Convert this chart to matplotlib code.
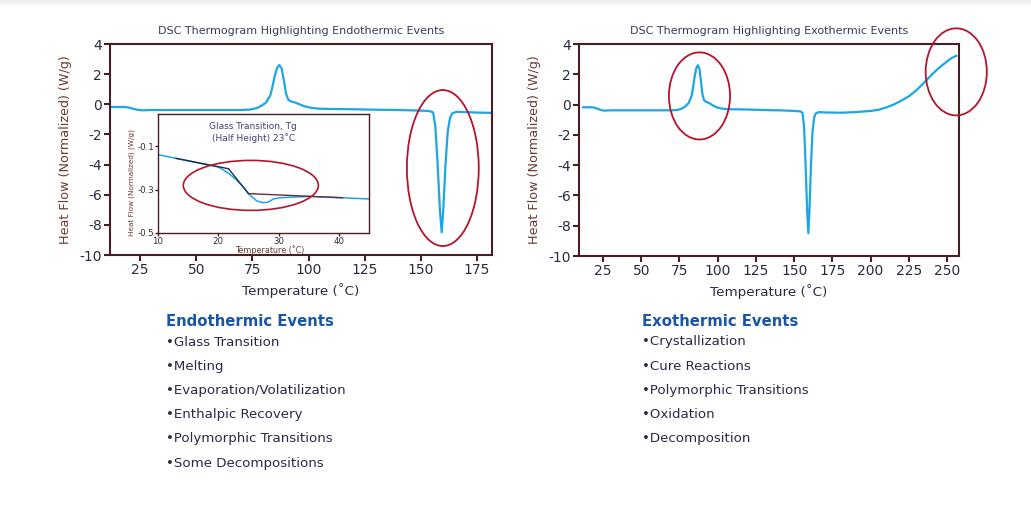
import matplotlib
matplotlib.use("Agg")
import matplotlib.pyplot as plt
from matplotlib.patches import Ellipse, Rectangle

plt.rcParams['font.family'] = ['DejaVu Sans']
plt.rcParams['axes.unicode_minus'] = False

# ---------------- data ----------------
temp_main = [12, 15, 18, 20, 22, 24, 26, 30, 40, 50, 60, 70, 74, 77, 79, 81, 83, 84, 85, 86, 87,
             88, 89, 90, 91, 92, 94, 96, 98, 100, 103, 106, 110, 120, 130, 140, 150, 154,
             155.5, 156.5, 157.5, 158.5, 159.3, 160, 161, 162, 163, 164, 166, 170]
hf_main = [-0.18, -0.18, -0.18, -0.22, -0.30, -0.37, -0.40, -0.38, -0.38, -0.38, -0.38, -0.38, -0.35,
           -0.25, -0.10, 0.10, 0.60, 1.20, 1.90, 2.40, 2.60, 2.40, 1.60, 0.70, 0.30, 0.20, 0.12,
           0.00, -0.12, -0.20, -0.27, -0.30, -0.31, -0.33, -0.36, -0.38, -0.42, -0.45,
           -0.55, -1.50, -4.00, -7.00, -8.50, -7.00, -4.00, -1.80, -0.90, -0.60, -0.50, -0.52]

temp_endo_tail = [175, 182]
hf_endo_tail = [-0.55, -0.57]

temp_exo_tail = [180, 190, 200, 205, 210, 215, 220, 225, 230, 235, 240, 245, 250, 253, 256]
hf_exo_tail = [-0.54, -0.50, -0.42, -0.35, -0.20, 0.00, 0.25, 0.55, 0.95, 1.45, 1.98, 2.45,
               2.85, 3.08, 3.22]

# inset (glass transition)
temp_tg = [10, 20, 21.4, 22.8, 24.2, 25.3, 26.4, 27.5, 28.3, 29.2, 30.3, 32.5, 35.3, 40.3, 45.3]
hf_tg = [-0.138, -0.195, -0.218, -0.249, -0.288, -0.326, -0.352, -0.360, -0.357, -0.342,
         -0.337, -0.334, -0.331, -0.337, -0.343]
tangent_temp = [13, 21.7, 25.0, 40.6]
tangent_hf = [-0.155, -0.203, -0.318, -0.337]

endo_xticks = [25, 50, 75, 100, 125, 150, 175]
exo_xticks = [25, 50, 75, 100, 125, 150, 175, 200, 225, 250]
yticks = [4, 2, 0, -2, -4, -6, -8, -10]
inset_xticks = [10, 20, 30, 40]
inset_yticks = [-0.1, -0.3, -0.5]

endo_title = "DSC Thermogram Highlighting Endothermic Events"
exo_title = "DSC Thermogram Highlighting Exothermic Events"
endo_heading = "Endothermic Events"
endo_items = ["Glass Transition", "Melting", "Evaporation/Volatilization", "Enthalpic Recovery",
              "Polymorphic Transitions", "Some Decompositions"]
exo_heading = "Exothermic Events"
exo_items = ["Crystallization", "Cure Reactions", "Polymorphic Transitions", "Oxidation",
             "Decomposition"]

# ---------------- style ----------------
W, H = 1031, 517
CURVE = "#1ba6e6"
FRAME = "#4a1c24"
TICKTXT = "#2b2b40"
YLAB = "#6a3a30"
TITLE = "#3a3a5c"
RED = "#b3142c"
HEAD = "#1a56a8"
ITEM = "#2a2a48"

fig = plt.figure(figsize=(W / 100, H / 100), dpi=100)
fig.patch.set_facecolor("white")

# faint page shadow along the top edge
for i in range(6):
    fig.patches.append(Rectangle((0, 1 - (i + 1) / H), 1, 1 / H, transform=fig.transFigure,
                                 facecolor="#b0b0b0", alpha=0.25 * (1 - i / 6), lw=0))


def fbox(x0, y0, x1, y1):
    return [x0 / W, 1 - y1 / H, (x1 - x0) / W, (y1 - y0) / H]


def style_axes(ax, lw=1.5, ticksize=10, ticklen=4):
    for s in ax.spines.values():
        s.set_color(FRAME)
        s.set_linewidth(lw)
    ax.tick_params(direction="out", color=FRAME, width=lw, length=ticklen,
                   labelsize=ticksize, labelcolor=TICKTXT, pad=2)


def main_axes(box, xlim, xticks, title):
    ax = fig.add_axes(box)
    ax.set_xlim(*xlim)
    ax.set_ylim(-10, 4)
    ax.set_xticks(xticks)
    ax.set_yticks(yticks)
    style_axes(ax)
    ax.set_title(title, fontsize=8, color=TITLE, pad=7)
    ax.set_xlabel("Temperature (˚C)", fontsize=9.7, color=TICKTXT, labelpad=4)
    ax.set_ylabel("Heat Flow (Normalized) (W/g)", fontsize=9.2, color=YLAB, labelpad=5)
    return ax


# left chart
ax1 = main_axes(fbox(110, 44, 492, 255), (11.6, 181.7), endo_xticks, endo_title)
ax1.plot(temp_main + temp_endo_tail, hf_main + hf_endo_tail, color=CURVE, lw=1.6,
         solid_joinstyle="round")
ax1.add_patch(Ellipse((159.8, -4.23), 32, 10.35, fill=False, edgecolor=RED, lw=1.3, zorder=5))

# inset
axi = fig.add_axes(fbox(158, 114, 369, 233))
axi.set_xlim(10, 45)
axi.set_ylim(-0.5, 0.05)
axi.set_xticks(inset_xticks)
axi.set_yticks(inset_yticks)
style_axes(axi, lw=1.0, ticksize=6.2, ticklen=2.5)
axi.tick_params(pad=0.5)
axi.set_xlabel("Temperature (˚C)", fontsize=5.8, color=YLAB, labelpad=0)
axi.xaxis.set_label_coords(0.53, -0.105)
axi.set_ylabel("Heat Flow (Normalized) (W/g)", fontsize=5.2, color=YLAB, labelpad=-1)
axi.yaxis.set_label_coords(-0.11, 0.42)
axi.plot(temp_tg, hf_tg, color=CURVE, lw=1.1)
axi.plot(tangent_temp[:2], tangent_hf[:2], color="#1f2b44", lw=1.0)
axi.plot(tangent_temp[1:3], tangent_hf[1:3], color="#22304a", lw=1.0)
axi.plot(tangent_temp[2:], tangent_hf[2:], color="#6a2a3a", lw=1.0)
axi.text(25.8, -0.035, "Glass Transition, Tg\n(Half Height) 23˚C", ha="center", va="center",
         fontsize=6.5, color="#4a3a7a", linespacing=1.35)
axi.add_patch(Ellipse((25.4, -0.28), 22.4, 0.231, fill=False, edgecolor=RED, lw=1.2, zorder=5))

# right chart
ax2 = main_axes(fbox(579, 44, 959, 256), (9.3, 257.8), exo_xticks, exo_title)
ax2.plot(temp_main + temp_exo_tail, hf_main + hf_exo_tail, color=CURVE, lw=1.6,
         solid_joinstyle="round")
for cx, cy in [(88.1, 0.57), (256.0, 2.16)]:
    ax2.add_patch(Ellipse((cx, cy), 40, 5.75, fill=False, edgecolor=RED, lw=1.3,
                          clip_on=False, zorder=5))


def text_list(x, heading, items):
    fig.text(x / W, 1 - 322 / H, heading, fontsize=10.7, fontweight="bold", color=HEAD,
             ha="left", va="center")
    for i, it in enumerate(items):
        fig.text(x / W, 1 - (342 + 24.2 * i) / H, "\u2022" + it, fontsize=9.6, color=ITEM,
                 ha="left", va="center")


text_list(166, endo_heading, endo_items)
text_list(642, exo_heading, exo_items)

fig.savefig("out.png", dpi=100, facecolor="white")
